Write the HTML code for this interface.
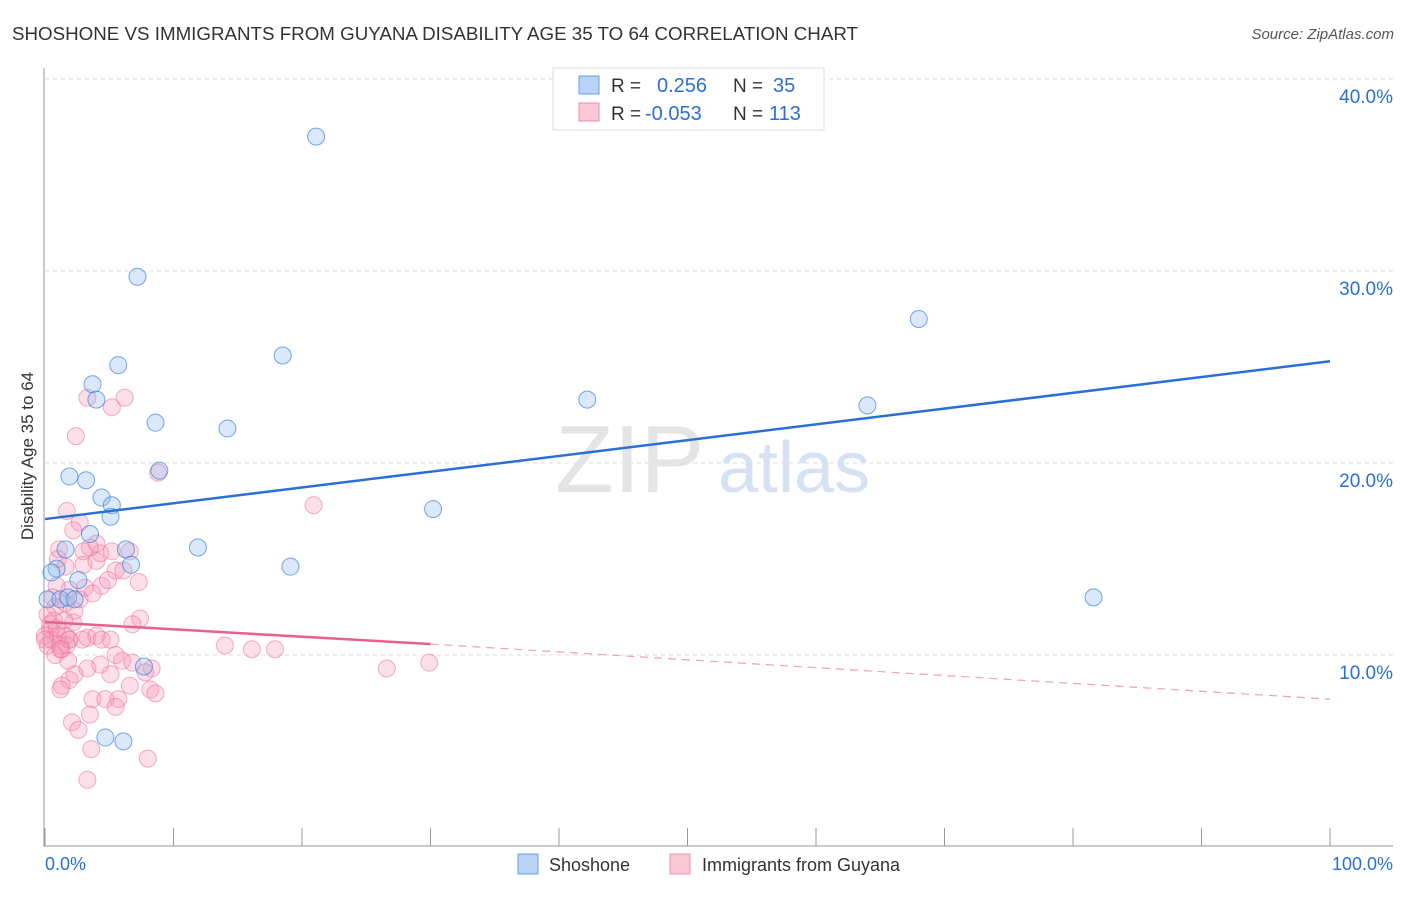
<!DOCTYPE html>
<html><head><meta charset="utf-8"><style>
body{margin:0;background:#fff;font-family:"Liberation Sans",sans-serif}
svg text{font-family:"Liberation Sans",sans-serif}
</style></head><body>
<svg id="c" width="1406" height="892">
<text x="12" y="40" font-size="18" fill="#333" textLength="846" lengthAdjust="spacingAndGlyphs">SHOSHONE VS IMMIGRANTS FROM GUYANA DISABILITY AGE 35 TO 64 CORRELATION CHART</text>
<text x="1394" y="39" font-size="15" fill="#555" font-style="italic" text-anchor="end">Source: ZipAtlas.com</text>
<text x="33" y="456" font-size="17" fill="#333" text-anchor="middle" transform="rotate(-90 33 456)">Disability Age 35 to 64</text>
<g id="grid"></g>
<text x="555" y="492" font-size="96" fill="#e4e4e4" font-family="Liberation Serif">ZIP</text>
<text x="718" y="492" font-size="72" fill="#d6e2f4">atlas</text>
<g id="pts"></g>
<g id="lines"></g>
<g>
<rect x="553" y="68" width="271" height="62" fill="#fff" stroke="#ddd"/>
<rect x="579" y="76" width="20" height="18" fill="#b8d3f5" stroke="#6a9de0"/>
<rect x="579" y="103" width="20" height="18" fill="#fbc8d6" stroke="#ee8eab"/>
<text x="611" y="92" font-size="19" fill="#333">R =</text><text x="657" y="92" font-size="20" fill="#2a6fd6">0.256</text>
<text x="733" y="92" font-size="19" fill="#333">N =</text><text x="773" y="92" font-size="20" fill="#2a6fd6">35</text>
<text x="611" y="120" font-size="19" fill="#333">R =</text><text x="645" y="120" font-size="20" fill="#2a6fd6">-0.053</text>
<text x="733" y="120" font-size="19" fill="#333">N =</text><text x="769" y="120" font-size="20" fill="#2a6fd6">113</text>
</g>
<g>
<rect x="518" y="854" width="20" height="20" fill="#b8d3f5" stroke="#6a9de0"/>
<text x="549" y="871" font-size="18" fill="#333">Shoshone</text>
<rect x="670" y="854" width="20" height="20" fill="#fbc8d6" stroke="#ee8eab"/>
<text x="702" y="871" font-size="18" fill="#333">Immigrants from Guyana</text>
</g>
</svg>
<script>
const yTicks=[10,20,30,40];
const xTickLabels=["0.0%","100.0%"];
const blueX=[21.1,7.2,18.5,5.7,3.7,4.0,8.6,14.2,8.9,1.9,3.2,4.4,5.2,5.1,3.5,6.3,1.6,11.9,6.7,0.9,0.5,19.1,2.6,0.2,1.2,7.7,4.7,6.1,42.2,30.2,64.0,68.0,81.6,1.8,2.3];
const blueY=[37.0,29.7,25.6,25.1,24.1,23.3,22.1,21.8,19.6,19.3,19.1,18.2,17.8,17.2,16.3,15.5,15.5,15.6,14.7,14.5,14.3,14.6,13.9,12.9,12.9,9.4,5.7,5.5,23.3,17.6,23.0,27.5,13.0,13.0,12.9];
const pinkX=[3.3,5.2,6.2,2.4,8.8,20.9,1.7,2.7,2.2,1.1,4.3,6.6,4.0,3.0,5.5,3.0,4.0,1.6,4.4,7.3,3.1,1.9,0.9,1.6,2.3,0.8,7.4,6.8,0.4,0.5,1.0,1.6,0.2,0.8,1.3,1.9,3.3,4.0,5.1,14.0,16.1,17.9,26.6,29.9,6.0,6.8,8.3,7.8,4.3,3.3,5.1,2.3,1.9,1.3,6.6,8.2,8.6,1.2,3.7,5.7,4.7,5.5,3.5,2.1,2.6,3.6,8.0,3.3,0.6,0.2,0.4,0.9,0.0,1.2,1.7,2.2,2.7,3.7,4.9,6.1,1.0,4.4,5.5,0.0,0.7,1.5,1.8,2.9,3.5,5.2,1.9,1.2];
const pinkY=[23.4,22.9,23.4,21.4,19.5,17.8,17.5,16.9,16.5,15.5,15.3,15.4,15.8,15.4,14.4,14.7,14.9,14.6,13.6,13.8,13.5,13.4,13.6,12.7,12.3,12.5,11.9,11.6,11.3,10.8,11.0,11.0,10.5,10.0,10.3,10.8,10.9,11.0,10.8,10.5,10.3,10.3,9.3,9.6,9.7,9.6,9.3,9.1,9.5,9.3,9.0,9.0,8.7,8.4,8.4,8.2,8.0,8.2,7.7,7.7,7.7,7.3,6.9,6.5,6.1,5.1,4.6,3.5,13.0,12.1,11.6,11.4,11.0,10.5,10.5,11.7,12.9,13.2,13.9,14.4,15.0,10.8,10.0,10.8,11.8,11.8,9.7,10.8,15.6,15.4,10.8,10.3];
const blueFit=[17.08,25.3];
const pinkFit=[11.72,10.57,7.7];
const ns="http://www.w3.org/2000/svg";
const X=v=>45+v*12.85, Y=v=>847-v*19.2;
function mk(t,a,p){const e=document.createElementNS(ns,t);for(const k in a)e.setAttribute(k,a[k]);p.appendChild(e);return e;}
const g=document.getElementById('grid');
yTicks.forEach(t=>{
 const l=mk('line',{x1:45,x2:1393,y1:Y(t),y2:Y(t),stroke:'#ddd','stroke-dasharray':'4,4'},g);
 
 
 const tx=mk('text',{x:1393,y:Y(t)+24,'font-size':19,fill:'#2a6fd6','text-anchor':'end'},g);tx.textContent=t.toFixed(1)+'%';
 
 
});
mk('line',{x1:44,x2:44,y1:68,y2:847,stroke:'#999'},g);
mk('line',{x1:44,x2:1393,y1:846,y2:846,stroke:'#999'},g);
for(let i=0;i<=10;i++){mk('line',{x1:X(i*10),x2:X(i*10),y1:828,y2:846,stroke:'#999'},g);}
xTickLabels.forEach((s,i)=>{const tx=mk('text',{x:i?1393:45,y:870,'font-size':18,fill:'#2a6fd6','text-anchor':i?'end':'start'},g);tx.textContent=s;
 
 });
const P=document.getElementById('pts');
pinkX.forEach((x,i)=>{const c=mk('circle',{cx:X(x),cy:Y(pinkY[i]),r:8.5,fill:'rgba(246,150,180,0.3)',stroke:'rgba(236,120,160,0.6)'},P);
 
 });
blueX.forEach((x,i)=>{const c=mk('circle',{cx:X(x),cy:Y(blueY[i]),r:8.5,fill:'rgba(150,190,240,0.35)',stroke:'rgba(60,130,220,0.7)'},P);
 
 });
const L=document.getElementById('lines');
const b=mk('line',{x1:X(0),y1:Y(blueFit[0]),x2:X(100),y2:Y(blueFit[1]),stroke:'#2a6fd6','stroke-width':2.5},L);


const p1=mk('line',{x1:X(0),y1:Y(pinkFit[0]),x2:X(30),y2:Y(pinkFit[1]),stroke:'#e8618c','stroke-width':2.5},L);


const p2=mk('line',{x1:X(30),y1:Y(pinkFit[1]),x2:X(100),y2:Y(pinkFit[2]),stroke:'#eea0b8','stroke-width':1.2,'stroke-dasharray':'8,6'},L);


</script>
</body></html>
